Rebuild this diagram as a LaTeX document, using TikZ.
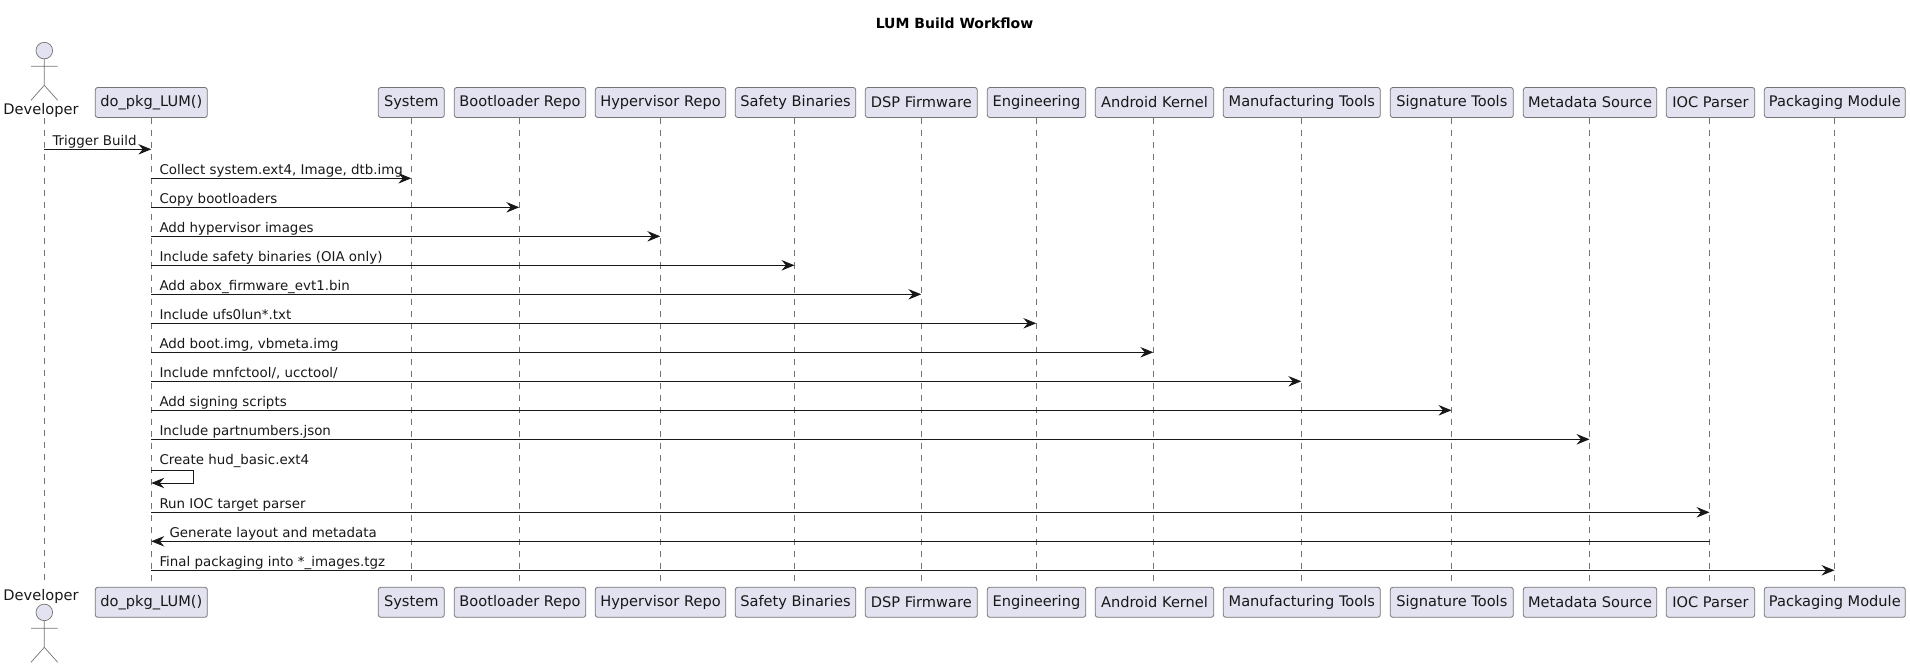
\documentclass[tikz,border=0pt]{standalone}
\usepackage{fontspec}
\setmainfont{DejaVu Sans}
\usetikzlibrary{arrows.meta,calc}
\definecolor{partfill}{HTML}{E2E2F0}
\definecolor{inkdark}{HTML}{181818}
\tikzset{
  x=1pt,y=-1pt,
  partbox/.style={draw=inkdark!60,line width=0.8pt,fill=partfill,rounded corners=2.5pt,inner sep=0pt,minimum height=30pt,font=\fontsize{14.6}{16}\selectfont,text=inkdark},
  lifeline/.style={draw=inkdark!60,line width=0.6pt,dash pattern=on 6pt off 6pt},
  actorline/.style={draw=inkdark!60,line width=0.7pt},
  actorhead/.style={circle,draw=inkdark!60,line width=0.7pt,fill=partfill,minimum size=16.6pt,inner sep=0pt},
  actorlabel/.style={inner sep=0pt,font=\fontsize{14.6}{16}\selectfont,text=inkdark},
  msgline/.style={draw=inkdark,line width=0.85pt,-{Stealth[length=13pt,width=10.5pt,inset=4.5pt]}},
  msglabel/.style={anchor=base west,inner sep=0pt,font=\fontsize{13.4}{15}\selectfont,text=inkdark},
  titlelabel/.style={inner sep=0pt,anchor=base,font=\bfseries\fontsize{14}{16}\selectfont,text=black}
}
\newcommand{\partic}[5]{%
  \node[partbox,minimum width=#3pt-#2pt] (#1T) at ({(#2+#3)/2},102.5) {#5};
  \node[partbox,minimum width=#3pt-#2pt] (#1B) at ({(#2+#3)/2},602.3) {#5};
  \coordinate (#1L) at (#4,0);
  \draw[lifeline] ($(#1L |- #1T.south)+(0,0.6)$) -- ($(#1L |- #1B.north)+(0,-3.4)$);
}
\newcommand{\msg}[5]{%
  \coordinate (#1a) at (#2L |- 0,#4);
  \coordinate (#1b) at (#3L |- 0,#4);
  \draw[msgline] (#1a) -- (#1b);
  \node[msglabel] (#1) at ($(#1a)+(8,-4.2)$) {#5};
}
\begin{document}
\begin{tikzpicture}
\useasboundingbox (0,0) rectangle (1910,668);
\node[titlelabel] (title) at (954.5,28.2) {LUM Build Workflow};
% participants
\partic{do}{95.3}{207.3}{151.3}{do\_pkg\_LUM()}
\partic{sys}{378.3}{444.3}{411.3}{System}
\partic{boot}{454.3}{585.7}{519.3}{Bootloader Repo}
\partic{hyp}{595.3}{725.7}{660.3}{Hypervisor Repo}
\partic{safe}{735.3}{855.7}{794.5}{Safety Binaries}
\partic{dsp}{865.3}{977.3}{921.3}{DSP Firmware}
\partic{eng}{987.3}{1085.7}{1036.3}{Engineering}
\partic{and}{1095.3}{1213.7}{1153.3}{Android Kernel}
\partic{mfg}{1223.3}{1380.3}{1301.3}{Manufacturing Tools}
\partic{sig}{1390.3}{1513.3}{1451.5}{Signature Tools}
\partic{meta}{1523.3}{1656.7}{1589.5}{Metadata Source}
\partic{ioc}{1666.3}{1754.7}{1709.5}{IOC Parser}
\partic{pack}{1764.3}{1905.3}{1834.5}{Packaging Module}
% actor
\coordinate (devL) at (44.3,0);
\node[actorlabel] (devT) at (41,110) {Developer};
\node[actorlabel] (devB) at (41,596.3) {Developer};
\draw[lifeline] (devL |- 0,118) -- (devL |- 0,584);
\node[actorhead] (headT) at (44.3,50.6) {};
\draw[actorline] (headT.south) -- (44.3,85.3) (31,66.3) -- (57.7,66.3) (31,100.3) -- (44.3,85.3) -- (57.7,100.3);
\node[actorhead] (headB) at (44.3,612.4) {};
\draw[actorline] (headB.south) -- (44.3,647.3) (31,628.3) -- (57.7,628.3) (31,662.3) -- (44.3,647.3) -- (57.7,662.3);
% messages
\msg{m1}{dev}{do}{149.3}{Trigger Build}
\msg{m2}{do}{sys}{178.3}{Collect system.ext4, Image, dtb.img}
\msg{m3}{do}{boot}{207.3}{Copy bootloaders}
\msg{m4}{do}{hyp}{236.3}{Add hypervisor images}
\msg{m5}{do}{safe}{265.3}{Include safety binaries (OIA only)}
\msg{m6}{do}{dsp}{294.3}{Add abox\_firmware\_evt1.bin}
\msg{m7}{do}{eng}{323.3}{Include ufs0lun*.txt}
\msg{m8}{do}{and}{352.3}{Add boot.img, vbmeta.img}
\msg{m9}{do}{mfg}{381.3}{Include mnfctool/, ucctool/}
\msg{m10}{do}{sig}{410.3}{Add signing scripts}
\msg{m11}{do}{meta}{439.3}{Include partnumbers.json}
% self message
\coordinate (m12a) at (doL |- 0,470.3);
\coordinate (m12b) at (doL |- 0,483);
\draw[msgline] (m12a) -- ++(42.3,0) |- (m12b);
\node[msglabel] (m12) at ($(m12a)+(8,-6.1)$) {Create hud\_basic.ext4};
\msg{m13}{do}{ioc}{512.3}{Run IOC target parser}
% reverse message
\coordinate (m14a) at (iocL |- 0,541.3);
\coordinate (m14b) at (doL |- 0,541.3);
\draw[msgline] (m14a) -- (m14b);
\node[msglabel] (m14) at ($(m14b)+(18,-4.2)$) {Generate layout and metadata};
\msg{m15}{do}{pack}{570.3}{Final packaging into *\_images.tgz}
\end{tikzpicture}
\end{document}
